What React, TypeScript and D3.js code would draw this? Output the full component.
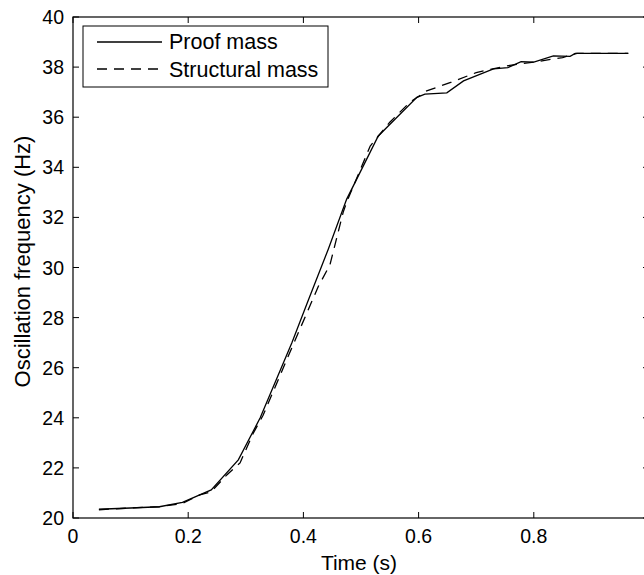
import React from "react";
import * as d3 from "d3";

const proofT = [0.045, 0.1, 0.15, 0.19, 0.24, 0.287, 0.325, 0.38, 0.409, 0.443, 0.475, 0.53, 0.559, 0.597, 0.611, 0.649, 0.678, 0.73, 0.755, 0.778, 0.8, 0.834, 0.863, 0.872, 0.964];
const proofF = [20.35, 20.4, 20.45, 20.62, 21.12, 22.32, 24.0, 27.0, 28.72, 30.72, 32.72, 35.25, 35.92, 36.79, 36.92, 36.97, 37.45, 37.93, 37.98, 38.22, 38.2, 38.45, 38.43, 38.55, 38.55];

const structT = [0.045, 0.1, 0.15, 0.19, 0.22, 0.24, 0.267, 0.29, 0.313, 0.33, 0.38, 0.426, 0.446, 0.469, 0.475, 0.516, 0.55, 0.585, 0.614, 0.657, 0.7, 0.753, 0.8, 0.85, 0.875, 0.964];
const structF = [20.33, 20.4, 20.45, 20.58, 20.92, 21.05, 21.72, 22.2, 23.39, 24.1, 26.8, 29.25, 30.1, 32.2, 32.6, 34.85, 35.8, 36.6, 37.05, 37.4, 37.78, 38.05, 38.2, 38.38, 38.55, 38.55];

const xTicks = [0, 0.2, 0.4, 0.6, 0.8, 1];
const xTickLabels = ["0", "0.2", "0.4", "0.6", "0.8", ""];
const yTicks = [20, 22, 24, 26, 28, 30, 32, 34, 36, 38, 40];
const seriesNames = ["Proof mass", "Structural mass"];

const W = 644;
const H = 575;
const left = 73;
const right = 649;
const top = 17;
const bottom = 518;
const FONT = "'Liberation Sans', Arial, Helvetica, sans-serif";

export default function App() {
  const x = d3.scaleLinear().domain([0, 1]).range([left, right]);
  const y = d3.scaleLinear().domain([20, 40]).range([bottom, top]);
  const line = d3
    .line<[number, number]>()
    .x((d) => x(d[0]))
    .y((d) => y(d[1]));
  const proof = proofT.map((t, i) => [t, proofF[i]] as [number, number]);
  const struct = structT.map((t, i) => [t, structF[i]] as [number, number]);
  const tl = 6;

  return (
    <svg
      width={W}
      height={H}
      style={{ position: "absolute", left: 0, top: 0, background: "#fff" }}
      fontFamily={FONT}
    >
      <rect x={0} y={0} width={W} height={H} fill="#fff" />
      <path d={line(struct) || ""} fill="none" stroke="#000" strokeWidth={1.3} strokeDasharray="10,7" />
      <path d={line(proof) || ""} fill="none" stroke="#000" strokeWidth={1.3} />
      <rect x={left} y={top} width={right - left} height={bottom - top} fill="none" stroke="#000" strokeWidth={1.2} />
      {xTicks.map((t, i) => (
        <g key={"x" + t}>
          <line x1={x(t)} x2={x(t)} y1={bottom} y2={bottom - tl} stroke="#000" strokeWidth={1} />
          <line x1={x(t)} x2={x(t)} y1={top} y2={top + tl} stroke="#000" strokeWidth={1} />
          {xTickLabels[i] ? (
            <text x={x(t)} y={543} textAnchor="middle" fontSize={19.5} fill="#000">
              {xTickLabels[i]}
            </text>
          ) : null}
        </g>
      ))}
      {yTicks.map((v) => (
        <g key={"y" + v}>
          <line x1={left} x2={left + tl} y1={y(v)} y2={y(v)} stroke="#000" strokeWidth={1} />
          <line x1={right} x2={right - tl} y1={y(v)} y2={y(v)} stroke="#000" strokeWidth={1} />
          <text x={64} y={y(v) + 7} textAnchor="end" fontSize={19.5} fill="#000">
            {String(v)}
          </text>
        </g>
      ))}
      <text x={(left + 649) / 2 - 2} y={570} textAnchor="middle" fontSize={21} fill="#000">
        Time (s)
      </text>
      <text
        transform={`translate(30, ${(top + bottom) / 2 - 6}) rotate(-90)`}
        textAnchor="middle"
        fontSize={22}
        fill="#000"
      >
        Oscillation frequency (Hz)
      </text>
      <rect x={83} y={26} width={245} height={61} fill="#fff" stroke="#000" strokeWidth={1} />
      <line x1={97} x2={162} y1={42} y2={42} stroke="#000" strokeWidth={1.3} />
      <line x1={97} x2={162} y1={69} y2={69} stroke="#000" strokeWidth={1.3} strokeDasharray="10,7" />
      <text x={169} y={49} fontSize={21.5} fill="#000">
        {seriesNames[0]}
      </text>
      <text x={169} y={77} fontSize={21.5} fill="#000">
        {seriesNames[1]}
      </text>
    </svg>
  );
}
